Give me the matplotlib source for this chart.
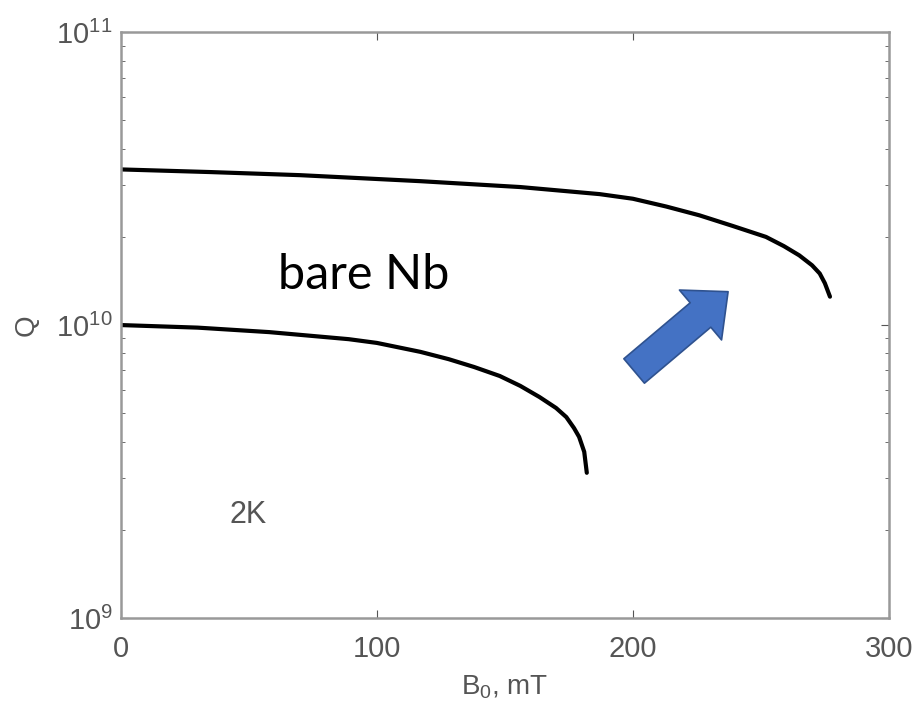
import numpy as np
import matplotlib
matplotlib.use('Agg')
import matplotlib.pyplot as plt

# values (B in mT, Q)
b_upper = [0, 35, 70, 117, 156, 187, 200, 213, 226, 239, 252, 259, 265, 270, 273, 275, 277]
q_upper = [3.40e10, 3.33e10, 3.25e10, 3.10e10, 2.96e10, 2.80e10, 2.70e10, 2.54e10, 2.37e10,
           2.18e10, 2.00e10, 1.86e10, 1.73e10, 1.60e10, 1.50e10, 1.39e10, 1.25e10]

b_lower = [0, 30, 58, 89, 100, 117, 128, 138, 148, 156, 163.5, 170, 174, 177, 179, 181, 182]
q_lower = [1.0e10, 9.8e9, 9.46e9, 8.95e9, 8.69e9, 8.1e9, 7.65e9, 7.19e9, 6.7e9, 6.2e9,
           5.68e9, 5.21e9, 4.85e9, 4.45e9, 4.15e9, 3.69e9, 3.13e9]

x_ticks = [0, 100, 200, 300]
y_ticks = [1e9, 1e10, 1e11]

arrow_tail = (200.5, 6.97e9)
arrow_tip = (237.2, 1.30e10)

plt.rcParams['font.family'] = ['Liberation Sans', 'DejaVu Sans']
plt.rcParams['mathtext.fontset'] = 'custom'
plt.rcParams['mathtext.rm'] = 'Liberation Sans'
plt.rcParams['mathtext.it'] = 'Liberation Sans:italic'

grey = '#555555'
fig = plt.figure( figsize = ( 9.23, 7.16 ), dpi = 100 )
ax = fig.add_axes( [ 0.131, 0.137, 0.832, 0.818 ] )

ax.plot( b_upper, q_upper, color = 'black', linewidth = 3, solid_capstyle = 'round' )
ax.plot( b_lower, q_lower, color = 'black', linewidth = 3, solid_capstyle = 'round' )

ax.set_yscale( 'log' )
ax.set_xlim( 0, 300 )
ax.set_ylim( 1e9, 1e11 )
ax.set_xticks( x_ticks )
ax.set_yticks( y_ticks )
ax.tick_params( which = 'both', direction = 'in', top = True, right = True, colors = grey, labelsize = 21, labelcolor = grey )
ax.tick_params( which = 'major', length = 6 )
ax.tick_params( which = 'minor', length = 3 )
ax.tick_params( axis = 'x', pad = 12 )
ax.tick_params( axis = 'y', pad = 6 )
for s in ax.spines.values():
    s.set_color( '#999999' )
    s.set_linewidth( 1.8 )

ax.set_xlabel( r'B$_{0}$, mT', fontsize = 20, color = grey, labelpad = 8 )
ax.set_ylabel( 'Q', fontsize = 20, color = grey, labelpad = 12 )

ax.text( 0.205, 0.585, 'bare Nb', transform = ax.transAxes, fontsize = 35, family = 'Lato', color = 'black', va = 'center' )
ax.text( 0.142, 0.176, '2K', transform = ax.transAxes, fontsize = 22, color = grey, va = 'center' )

ax.annotate( '', xy = arrow_tip, xytext = arrow_tail,
             arrowprops = dict( arrowstyle = 'simple,head_width=4.7,head_length=2.6,tail_width=2.3',
                                mutation_scale = 10, fc = '#4472C4', ec = '#2F528F', lw = 1.2,
                                shrinkA = 0, shrinkB = 0 ) )

fig.savefig( 'out.png', dpi = 100 )
